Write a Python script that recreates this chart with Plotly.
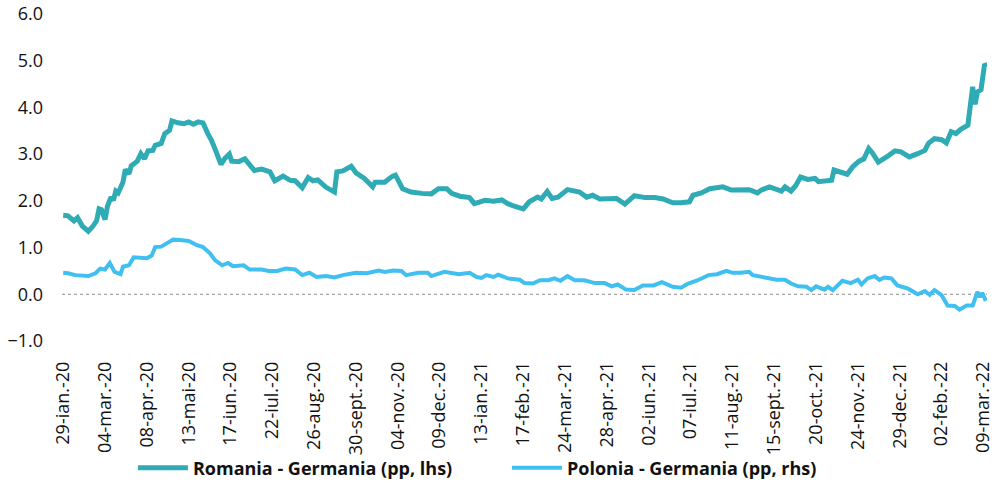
import plotly.graph_objects as go

# Romania - Germania spread (pp)
ro_dates = ["2020-01-29","2020-02-02","2020-02-07","2020-02-10","2020-02-14","2020-02-19","2020-02-23","2020-02-26","2020-02-28","2020-03-01",
"2020-03-04","2020-03-06","2020-03-09","2020-03-11","2020-03-13","2020-03-15","2020-03-19","2020-03-21","2020-03-24","2020-03-26",
"2020-03-31","2020-04-03","2020-04-06","2020-04-09","2020-04-13","2020-04-15","2020-04-20","2020-04-23","2020-04-27","2020-04-29",
"2020-05-04","2020-05-09","2020-05-13","2020-05-17","2020-05-21","2020-05-25","2020-05-29","2020-06-01","2020-06-05","2020-06-09",
"2020-06-12","2020-06-16","2020-06-18","2020-06-24","2020-06-29","2020-07-03","2020-07-07","2020-07-13","2020-07-20","2020-07-24",
"2020-07-31","2020-08-06","2020-08-10","2020-08-16","2020-08-21","2020-08-25","2020-08-29","2020-09-05","2020-09-12","2020-09-14",
"2020-09-19","2020-09-26","2020-09-30","2020-10-07","2020-10-14","2020-10-16","2020-10-24","2020-10-30","2020-11-02","2020-11-08",
"2020-11-15","2020-11-24","2020-12-02","2020-12-08","2020-12-15","2020-12-19","2020-12-26","2021-01-03","2021-01-07","2021-01-16",
"2021-01-23","2021-01-30","2021-02-04","2021-02-10","2021-02-17","2021-02-22","2021-03-01","2021-03-04","2021-03-09","2021-03-13",
"2021-03-18","2021-03-26","2021-04-05","2021-04-11","2021-04-16","2021-04-22","2021-05-02","2021-05-06","2021-05-13","2021-05-21",
"2021-05-30","2021-06-07","2021-06-14","2021-06-22","2021-06-29","2021-07-06","2021-07-09","2021-07-16","2021-07-23","2021-08-03",
"2021-08-10","2021-08-18","2021-08-25","2021-09-01","2021-09-04","2021-09-11","2021-09-17","2021-09-21","2021-09-24","2021-09-29",
"2021-10-03","2021-10-07","2021-10-13","2021-10-19","2021-10-22","2021-10-27","2021-11-02","2021-11-04","2021-11-10","2021-11-15",
"2021-11-20","2021-11-25","2021-11-29","2021-12-03","2021-12-06","2021-12-11","2021-12-18","2021-12-25","2021-12-30","2022-01-06",
"2022-01-13","2022-01-19","2022-01-22","2022-01-27","2022-02-02","2022-02-06","2022-02-10","2022-02-14","2022-02-18","2022-02-24",
"2022-02-28","2022-03-02","2022-03-04","2022-03-07","2022-03-10","2022-03-12"]
ro_values = [1.69,1.68,1.57,1.64,1.46,1.35,1.46,1.58,1.83,1.81,
1.60,1.88,2.08,2.01,2.21,2.17,2.40,2.67,2.58,2.75,
2.85,3.01,2.90,3.07,3.08,3.19,3.23,3.44,3.51,3.71,
3.67,3.65,3.69,3.64,3.69,3.67,3.44,3.30,3.05,2.78,
2.90,3.00,2.85,2.84,2.90,2.76,2.65,2.68,2.62,2.43,
2.53,2.44,2.43,2.28,2.50,2.43,2.45,2.29,2.19,2.62,
2.64,2.74,2.60,2.48,2.30,2.40,2.40,2.52,2.55,2.26,
2.19,2.16,2.15,2.26,2.26,2.16,2.10,2.07,1.94,2.01,
1.99,2.02,1.94,1.88,1.83,1.98,2.08,2.04,2.20,2.05,
2.08,2.24,2.19,2.08,2.12,2.04,2.04,2.05,1.93,2.11,
2.07,2.07,2.04,1.96,1.96,1.98,2.12,2.17,2.26,2.30,
2.23,2.23,2.24,2.17,2.23,2.30,2.26,2.21,2.30,2.21,
2.33,2.51,2.46,2.48,2.41,2.43,2.44,2.66,2.62,2.57,
2.74,2.85,2.90,3.12,3.03,2.83,2.94,3.07,3.05,2.94,
3.01,3.08,3.23,3.33,3.31,3.24,3.48,3.44,3.53,3.62,
4.44,4.07,4.33,4.38,4.93,4.87]

# Polonia - Germania spread (pp)
pl_dates = ["2020-01-29","2020-02-02","2020-02-08","2020-02-14","2020-02-19","2020-02-25","2020-02-29","2020-03-04","2020-03-08","2020-03-12",
"2020-03-17","2020-03-19","2020-03-24","2020-03-28","2020-04-04","2020-04-08","2020-04-12","2020-04-15","2020-04-20","2020-04-26",
"2020-04-30","2020-05-06","2020-05-13","2020-05-20","2020-05-25","2020-05-31","2020-06-04","2020-06-10","2020-06-15","2020-06-19",
"2020-06-28","2020-07-03","2020-07-13","2020-07-19","2020-07-26","2020-08-02","2020-08-10","2020-08-16","2020-08-22","2020-08-28",
"2020-09-05","2020-09-12","2020-09-19","2020-09-30","2020-10-09","2020-10-19","2020-10-24","2020-10-31","2020-11-07","2020-11-11",
"2020-11-21","2020-11-29","2020-12-02","2020-12-13","2020-12-19","2020-12-25","2021-01-03","2021-01-09","2021-01-13","2021-01-17",
"2021-01-23","2021-01-27","2021-02-04","2021-02-14","2021-02-18","2021-02-25","2021-03-03","2021-03-10","2021-03-15","2021-03-20",
"2021-03-26","2021-04-01","2021-04-09","2021-04-18","2021-04-26","2021-05-02","2021-05-07","2021-05-14","2021-05-21","2021-05-28",
"2021-06-06","2021-06-13","2021-06-22","2021-06-29","2021-07-05","2021-07-12","2021-07-22","2021-07-29","2021-08-06","2021-08-11",
"2021-08-18","2021-08-25","2021-08-28","2021-09-01","2021-09-08","2021-09-17","2021-09-24","2021-09-29","2021-10-05","2021-10-12",
"2021-10-16","2021-10-20","2021-10-27","2021-10-30","2021-11-03","2021-11-11","2021-11-18","2021-11-24","2021-11-27","2021-12-02",
"2021-12-08","2021-12-12","2021-12-16","2021-12-22","2021-12-27","2022-01-05","2022-01-13","2022-01-19","2022-01-23","2022-01-27",
"2022-02-02","2022-02-07","2022-02-13","2022-02-17","2022-02-23","2022-02-28","2022-03-04","2022-03-06","2022-03-08","2022-03-11"]
pl_values = [0.46,0.45,0.41,0.41,0.39,0.45,0.55,0.53,0.67,0.48,
0.43,0.59,0.62,0.79,0.79,0.77,0.83,1.01,1.02,1.10,
1.17,1.16,1.14,1.05,1.01,0.87,0.73,0.62,0.67,0.60,
0.62,0.53,0.53,0.50,0.50,0.55,0.53,0.41,0.46,0.37,
0.39,0.36,0.41,0.46,0.45,0.51,0.48,0.51,0.50,0.41,
0.46,0.46,0.39,0.48,0.45,0.43,0.46,0.37,0.35,0.41,
0.37,0.42,0.34,0.31,0.24,0.23,0.30,0.30,0.34,0.29,
0.39,0.30,0.30,0.24,0.24,0.17,0.21,0.10,0.09,0.19,
0.19,0.26,0.16,0.14,0.23,0.29,0.41,0.43,0.50,0.46,
0.46,0.48,0.41,0.39,0.34,0.31,0.31,0.23,0.17,0.16,
0.09,0.17,0.10,0.16,0.09,0.29,0.24,0.31,0.21,0.34,
0.39,0.31,0.36,0.34,0.19,0.12,0.00,0.07,-0.01,0.09,
-0.02,-0.24,-0.25,-0.33,-0.24,-0.24,0.05,-0.06,0.03,-0.14]

tick_dates = ["2020-01-29","2020-03-04","2020-04-08","2020-05-13","2020-06-17","2020-07-22","2020-08-26","2020-09-30",
"2020-11-04","2020-12-09","2021-01-13","2021-02-17","2021-03-24","2021-04-28","2021-06-02","2021-07-07",
"2021-08-11","2021-09-15","2021-10-20","2021-11-24","2021-12-29","2022-02-02","2022-03-09"]
tick_labels = ["29-ian.-20","04-mar.-20","08-apr.-20","13-mai-20","17-iun.-20","22-iul.-20","26-aug.-20","30-sept.-20",
"04-nov.-20","09-dec.-20","13-ian.-21","17-feb.-21","24-mar.-21","28-apr.-21","02-iun.-21","07-iul.-21",
"11-aug.-21","15-sept.-21","20-oct.-21","24-nov.-21","29-dec.-21","02-feb.-22","09-mar.-22"]
y_ticks = [-1, 0, 1, 2, 3, 4, 5, 6]

FONT = "'Open Sans', Lato, sans-serif"

fig = go.Figure()
fig.add_trace(go.Scatter(x=ro_dates, y=ro_values, mode="lines",
                         name="<b>Romania - Germania (pp, lhs)</b>",
                         line=dict(color="#2EABB4", width=5)))
fig.add_trace(go.Scatter(x=pl_dates, y=pl_values, mode="lines",
                         name="<b>Polonia - Germania (pp, rhs)</b>",
                         line=dict(color="#3FC0F0", width=4)))

fig.add_hline(y=0, line=dict(color="#8C8C8C", width=1, dash="dot"), layer="below")

fig.update_layout(
    width=994, height=490,
    margin=dict(l=62, r=7, t=14, b=149, autoexpand=False),
    paper_bgcolor="white", plot_bgcolor="white",
    font=dict(family=FONT, size=18, color="#111111"),
    showlegend=True,
    legend=dict(orientation="h", xref="container", yref="container",
                x=0.510, xanchor="center", y=0.045, yanchor="middle",
                bgcolor="rgba(0,0,0,0)",
                font=dict(family=FONT, size=18, color="#111111"),
                itemwidth=50, tracegroupgap=0,
                entrywidth=309, entrywidthmode="pixels"),
    xaxis=dict(type="date", range=["2020-01-28", "2022-03-12"], automargin=False,
               tickmode="array", tickvals=tick_dates, ticktext=tick_labels,
               tickangle=-90, showgrid=False, zeroline=False, showline=False,
               ticks="", tickfont=dict(size=18), ticklabelstandoff=16,
               ticklabeloverflow="allow"),
    yaxis=dict(range=[-1, 6], tickmode="array", tickvals=y_ticks, automargin=False,
               tickformat=".1f", showgrid=False, zeroline=False, showline=False,
               ticks="", tickfont=dict(size=18), ticklabelstandoff=18),
)

fig.write_html("out.html", config={"displayModeBar": False},
               post_script="document.body.style.margin='0';document.body.style.overflow='hidden';")
